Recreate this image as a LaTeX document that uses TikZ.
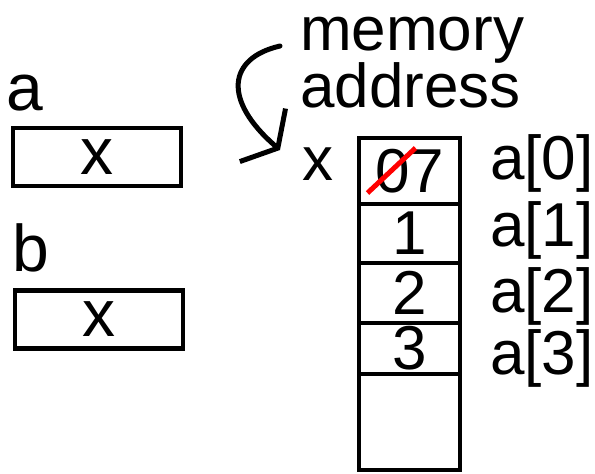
\documentclass[tikz,border=0pt]{standalone}
\usepackage{fontspec}
\setmainfont{Liberation Sans}
\usetikzlibrary{arrows.meta,positioning}

\begin{document}
\begin{tikzpicture}
	[x=1pt,y=-1pt,
	 every node/.style={black,inner sep=0pt,font=\fontsize{62}{57}\selectfont},
	 varbox/.style={draw,rectangle,line width=4.5pt,minimum width=168pt,minimum height=58pt,font=\fontsize{66}{66}\selectfont},
	 cell/.style={draw,rectangle,line width=4.5pt,minimum width=101pt,outer sep=0pt},
	 varname/.style={anchor=base west,font=\fontsize{66}{66}\selectfont},
	 idx/.style={anchor=base west},
	 hand/.style={line width=5pt,line cap=round,line join=round} ]

\useasboundingbox (0,0) rectangle (595,474);

\node [varname] (alab) at (6,110) {a};
\node [varbox] (avar) at (97,157) {x};
\node [varname] (blab) at (12,271) {b};
\node [varbox] (bvar) at (99,319.5) {x};

\node [cell,minimum height=66pt] (c0) at (409.5,171) {07};
\node [cell,minimum height=59pt,below=0pt of c0] (c1) {1};
\node [cell,minimum height=60pt,below=0pt of c1] (c2) {2};
\node [cell,minimum height=51pt,below=0pt of c2] (c3) {3};
\node [cell,minimum height=96pt,below=0pt of c3] (c4) {};
\draw [red,line width=5pt] ([shift={(-42,22)}]c0.center) -- ([shift={(6,-23)}]c0.center);

\node [anchor=base] (xlab) at (318,180) {x};
\foreach \i/\y in {0/179,1/246,2/312,3/374}
  \node [idx] (i\i) at (490,\y) {a[\i]};

\node [anchor=base west] (mem) at (300,50) {memory};
\node [anchor=base west] (addr) at (300,107) {address};

\coordinate (tail) at (280,46);
\coordinate (tip) at (280,150);
\draw [hand,-{Straight Barb[length=20pt,width=70pt]}] (tail) .. controls (228,58) and (222,100) .. (tip);

\end{tikzpicture}
\end{document}
